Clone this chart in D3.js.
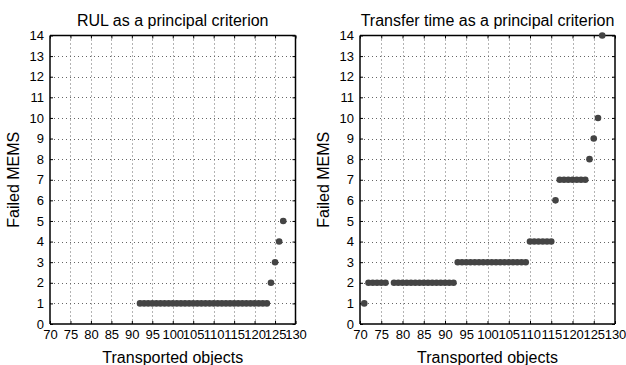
<!DOCTYPE html>
<html><head><meta charset="utf-8">
<script src="https://cdn.jsdelivr.net/npm/d3@7"></script>
<style>body{margin:0;background:#fff}svg{display:block}text{font-family:"Liberation Sans",Arial,sans-serif;fill:#000}</style>
</head><body>
<svg id="c" width="626" height="365"></svg>
<script>
const xTicks = [70,75,80,85,90,95,100,105,110,115,120,125,130];
const yTicks = [0,1,2,3,4,5,6,7,8,9,10,11,12,13,14];
const titles = ["RUL as a principal criterion", "Transfer time as a principal criterion"];
// Left panel: transported objects (x) vs failed MEMS (y)
const rulX = [92,93,94,95,96,97,98,99,100,101,102,103,104,105,106,107,108,109,110,111,112,113,114,115,116,117,118,119,120,121,122,123,124,125,126,127];
const rulY = [1,1,1,1,1,1,1,1,1,1,1,1,1,1,1,1,1,1,1,1,1,1,1,1,1,1,1,1,1,1,1,1,2,3,4,5];
// Right panel
const ttX = [71,72,73,74,75,76,78,79,80,81,82,83,84,85,86,87,88,89,90,91,92,93,94,95,96,97,98,99,100,101,102,103,104,105,106,107,108,109,110,111,112,113,114,115,116,117,118,119,120,121,122,123,124,125,126,127];
const ttY = [1,2,2,2,2,2,2,2,2,2,2,2,2,2,2,2,2,2,2,2,2,3,3,3,3,3,3,3,3,3,3,3,3,3,3,3,3,3,4,4,4,4,4,4,6,7,7,7,7,7,7,7,8,9,10,14];

const svg = d3.select("#c");
const panels = [
  {left:50, right:295.5, xs:rulX, ys:rulY, title:titles[0], ylabX:19},
  {left:360, right:615, xs:ttX, ys:ttY, title:titles[1], ylabX:329}
];
const pTop = 35.5, pBottom = 324;

panels.forEach(p => {
  const x = d3.scaleLinear().domain([70,130]).range([p.left, p.right]);
  const y = d3.scaleLinear().domain([0,14]).range([pBottom, pTop]);
  const g = svg.append("g");
  // grid
  g.append("g").selectAll("line").data(xTicks.slice(1,-1)).join("line")
    .attr("x1", d=>Math.round(x(d))+0.5).attr("x2", d=>Math.round(x(d))+0.5)
    .attr("y1", pTop).attr("y2", pBottom)
    .attr("stroke","#666").attr("stroke-width",1).attr("stroke-dasharray","1,3");
  g.append("g").selectAll("line").data(yTicks.slice(1,-1)).join("line")
    .attr("y1", d=>Math.round(y(d))+0.5).attr("y2", d=>Math.round(y(d))+0.5)
    .attr("x1", p.left).attr("x2", p.right)
    .attr("stroke","#666").attr("stroke-width",1).attr("stroke-dasharray","1,3");
  // axes
  const xa = g.append("g").attr("transform",`translate(0,${pBottom})`)
    .call(d3.axisBottom(x).tickValues(xTicks).tickSize(-3).tickPadding(6).tickFormat(d3.format("d")));
  const xt = g.append("g").attr("transform",`translate(0,${pTop})`)
    .call(d3.axisTop(x).tickValues(xTicks).tickSize(-3).tickFormat(""));
  const ya = g.append("g").attr("transform",`translate(${p.left},0)`)
    .call(d3.axisLeft(y).tickValues(yTicks).tickSize(-3).tickPadding(6).tickFormat(d3.format("d")));
  const yr = g.append("g").attr("transform",`translate(${p.right},0)`)
    .call(d3.axisRight(y).tickValues(yTicks).tickSize(-3).tickFormat(""));
  [xa,xt,ya,yr].forEach(a => {
    a.selectAll(".domain").attr("stroke","#000").attr("stroke-width",1.5);
    a.selectAll(".tick line").attr("stroke","#000");
    a.selectAll("text").style("font-family","'Liberation Sans',Arial,sans-serif").style("font-size","13px").attr("fill","#000");
  });
  xa.selectAll(".domain").attr("d", `M${p.left},0H${p.right}`);
  xt.selectAll(".domain").attr("d", `M${p.left},0H${p.right}`);
  ya.selectAll(".domain").attr("d", `M0,${pTop}V${pBottom}`);
  yr.selectAll(".domain").attr("d", `M0,${pTop}V${pBottom}`);
  // points
  g.append("g").selectAll("circle").data(p.xs.map((v,i)=>[v,p.ys[i]])).join("circle")
    .attr("cx", d=>x(d[0])).attr("cy", d=>y(d[1])).attr("r",3.3).attr("fill","#444");
  // title
  g.append("text").attr("x",(p.left+p.right)/2).attr("y",25.5).attr("text-anchor","middle")
    .style("font-size","16px").text(p.title);
  g.append("text").attr("x",(p.left+p.right)/2).attr("y",362.5).attr("text-anchor","middle")
    .style("font-size","16px").text("Transported objects");
  g.append("text").attr("transform",`translate(${p.ylabX},${(pTop+pBottom)/2}) rotate(-90)`)
    .attr("text-anchor","middle").style("font-size","16px").text("Failed MEMS");
});
</script>
</body></html>
